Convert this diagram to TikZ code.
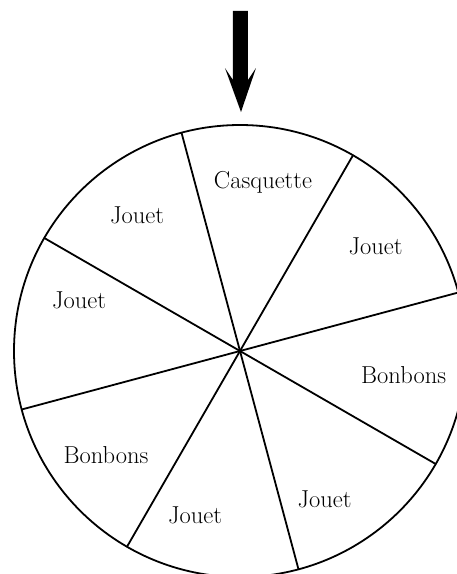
\documentclass[tikz,border=0pt]{standalone}
\tikzset{lot/.style={font=\fontsize{24.5}{28}\selectfont, inner sep=0pt, anchor=base}}
\begin{document}
\begin{tikzpicture}[x=1pt,y=1pt]
    \useasboundingbox (-240,-223) rectangle (216,351);
    \coordinate (O) at (0,0);
    \draw[line width=1.8pt] (O) circle (226);
    \foreach \a in {15,60,105,150}
        \draw[line width=1.8pt] (\a:226) -- (\a+180:226);
    % fleche
    \fill (-7,340) -- (8,340) -- (8,271) -- (16,283) -- (1,239) -- (-15,283) -- (-7,271) -- cycle;
    \node[lot] (casq) at (23,163) {Casquette};
    \node[lot] (j1) at (-103,128) {Jouet};
    \node[lot] (j2) at (135.5,97) {Jouet};
    \node[lot] (j3) at (-161,43) {Jouet};
    \node[lot, anchor=base west] (b1) at (121,-32) {Bonbons};
    \node[lot] (b2) at (-134,-112) {Bonbons};
    \node[lot] (j4) at (-45,-172) {Jouet};
    \node[lot] (j5) at (84.5,-156) {Jouet};
\end{tikzpicture}
\end{document}
